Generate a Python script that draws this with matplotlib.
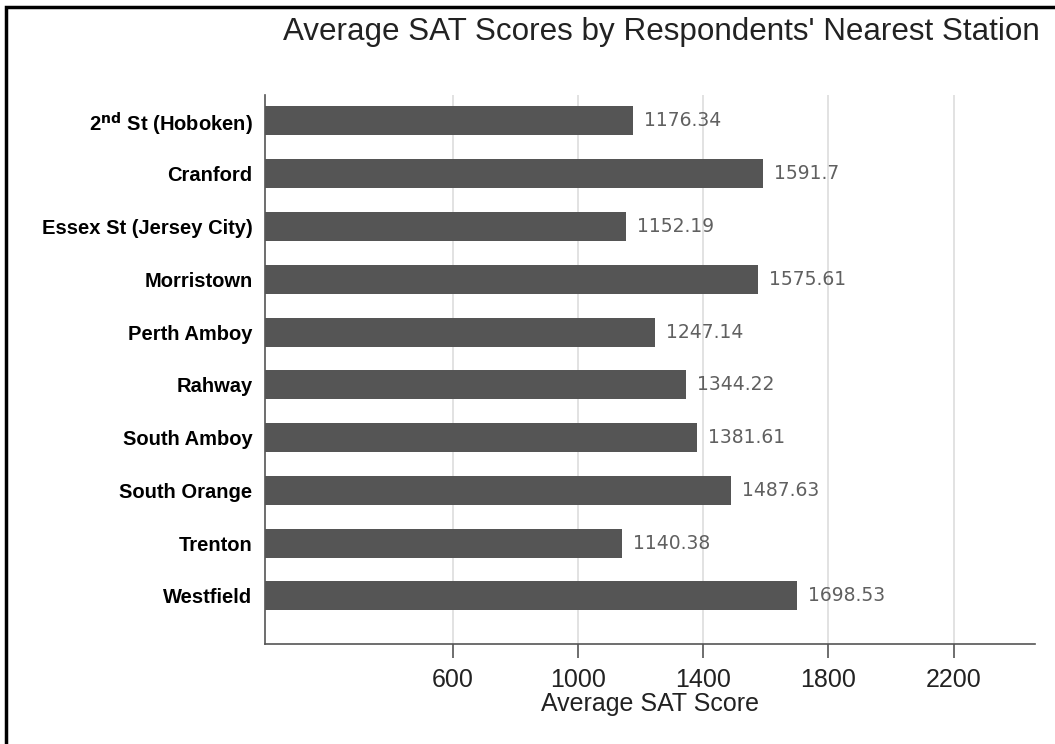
import matplotlib
matplotlib.use('Agg')
from matplotlib import pyplot as plt
from matplotlib.patches import Rectangle

plt.rcParams['font.family'] = ['Liberation Sans', 'DejaVu Sans']

stations = ['2$^{\\bf nd}$ St (Hoboken)', 'Cranford', 'Essex St (Jersey City)',
            'Morristown', 'Perth Amboy', 'Rahway', 'South Amboy',
            'South Orange', 'Trenton', 'Westfield']
scores = [1176.34, 1591.7, 1152.19, 1575.61, 1247.14,
          1344.22, 1381.61, 1487.63, 1140.38, 1698.53]
score_labels = ['1176.34', '1591.7', '1152.19', '1575.61', '1247.14',
                '1344.22', '1381.61', '1487.63', '1140.38', '1698.53']
xticks = [600, 1000, 1400, 1800, 2200]

fig = plt.figure(figsize=(10.55, 7.44), dpi=100)
ax = fig.add_axes([0.2512, 0.1344, 0.7298, 0.7379])

# рамка вокруг рисунка (видны только левая и верхняя стороны)
fig.add_artist(Rectangle((6 / 1055, -0.5), 2, 1.5 - 7 / 744,
                         transform=fig.transFigure, fill=False,
                         edgecolor='black', linewidth=2.5, clip_on=False))

ypos = list(range(len(stations)))
ax.barh(ypos, scores, height=0.55, color='#555555', zorder=3)

# подписи значений справа от столбцов
for y, v, s in zip(ypos, scores, score_labels):
    ax.text(v + 35, y, s, va='center', ha='left', fontsize=13.5,
            family='DejaVu Sans', color='#606060', zorder=4)

ax.set_xlim(0, 2460)
ax.set_ylim(9.91, -0.49)
ax.set_yticks(ypos)
ax.set_yticklabels(stations, fontsize=14.5, fontweight='bold')
ax.set_xticks(xticks)
ax.set_xticklabels([str(t) for t in xticks], fontsize=18, color='#222222')
ax.tick_params(axis='y', length=0, pad=9)
ax.tick_params(axis='x', length=10, width=1.2, color='#555555', pad=7)
ax.xaxis.grid(True, color='#dddddd', linewidth=1.2, zorder=0)

for side in ['top', 'right']:
    ax.spines[side].set_visible(False)
for side in ['left', 'bottom']:
    ax.spines[side].set_color('#555555')
    ax.spines[side].set_linewidth(1.2)

ax.set_xlabel('Average SAT Score', fontsize=18, color='#222222', labelpad=0)
fig.text(0.627, 0.957, "Average SAT Scores by Respondents' Nearest Station",
         ha='center', va='center', fontsize=22.6, color='#222222')

plt.savefig('out.png', dpi=100)
